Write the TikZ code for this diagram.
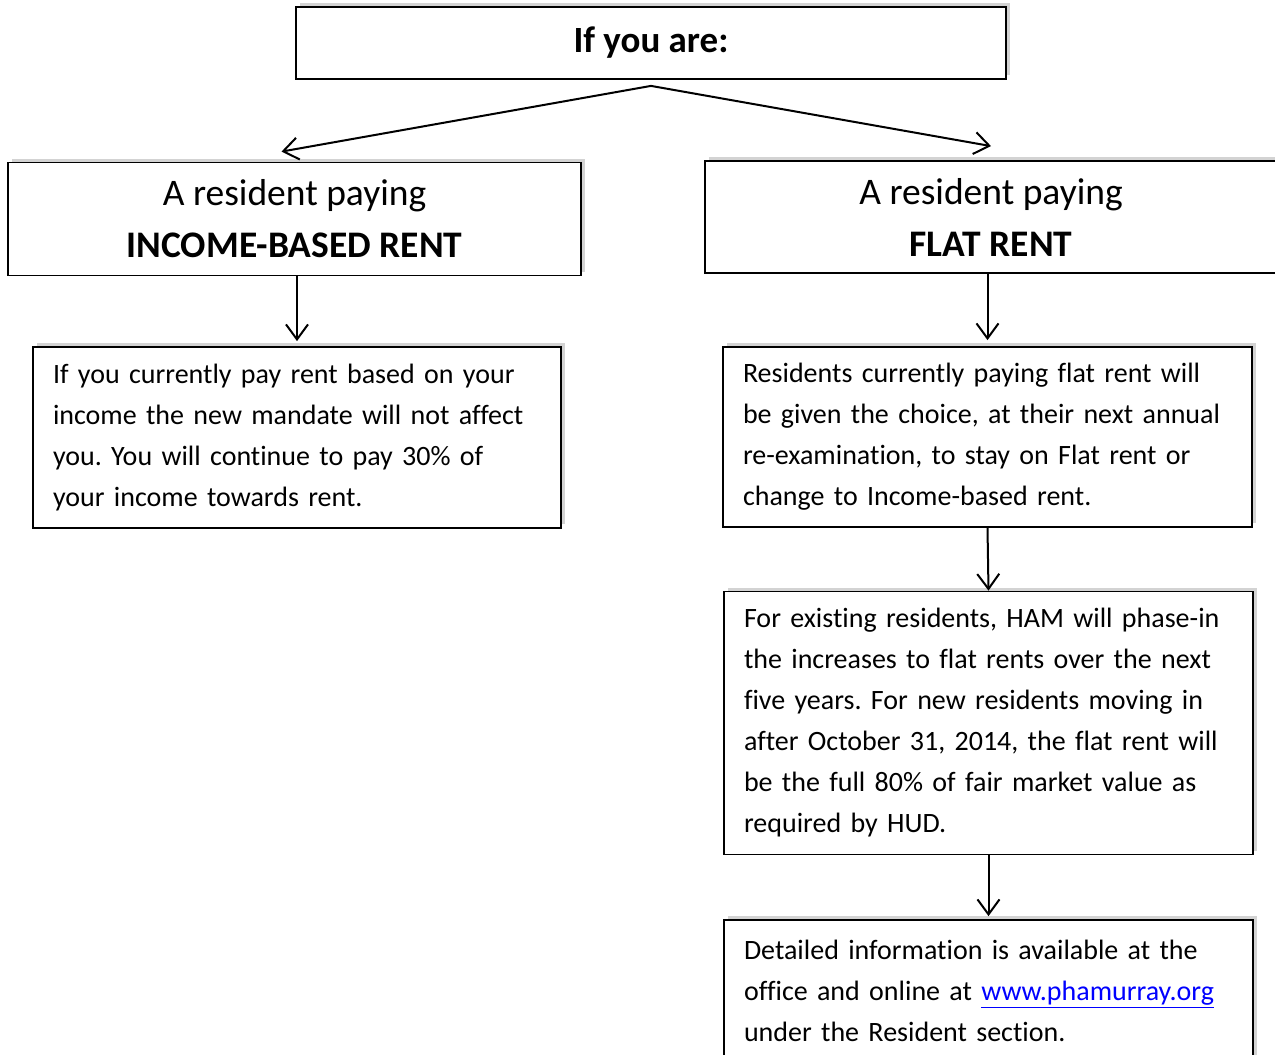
\documentclass[tikz,border=0pt]{standalone}
\usepackage{fontspec}
\setmainfont{Carlito}[Ligatures=NoCommon]
\usetikzlibrary{arrows.meta,positioning,shadows}
\definecolor{linkblue}{HTML}{0000FF}

\begin{document}
\frenchspacing
\begin{tikzpicture}[
  x=1pt, y=-1pt,
  box/.style={draw=black, line width=1.8pt, fill=white, inner sep=0pt,
    drop shadow={shadow xshift=4pt, shadow yshift=4pt, opacity=0.35}},
  headbox/.style={box, minimum height=113pt, align=center,
    font=\fontsize{37.5}{52}\selectfont},
  textbox/.style={box, align=left, inner xsep=20pt,
    font=\fontsize{28}{41}\selectfont},
  arr/.style={-{Straight Barb[length=15pt,width=22pt]}, line width=2pt}
]
  \useasboundingbox (0,0) rectangle (1275,1055);

  % question
  \node[box, minimum width=710pt, minimum height=72pt,
        font=\fontsize{37}{40}\selectfont\bfseries] (ask) at (651,43) {If you are:};

  % two kinds of rent
  \node[headbox, minimum width=573pt] (income) at (294.5,219)
    {A resident paying\\ \textbf{INCOME-BASED RENT}};
  \node[headbox, minimum width=572pt, minimum height=112pt] (flat) at (991,217)
    {A resident paying\\ \textbf{FLAT RENT}};

  % income-based branch
  \node[textbox, text width=488pt, minimum height=181pt] (incomeinfo) at (297,437.5)
    {If you currently pay rent based on your\\
     income the new mandate will not affect\\
     you. You will continue to pay 30\% of\\
     your income towards rent.};

  % flat rent branch
  \node[textbox, text width=489pt, minimum height=180pt] (flatchoice) at (987.5,437)
    {Residents currently paying flat rent will\\
     be given the choice, at their next annual\\
     re-examination, to stay on Flat rent or\\
     change to Income-based rent.};
  \node[textbox, text width=489pt, minimum height=263pt] (phasein) at (988.5,723)
    {For existing residents, HAM will phase-in\\
     the increases to flat rents over the next\\
     five years. For new residents moving in\\
     after October 31, 2014, the flat rent will\\
     be the full 80\% of fair market value as\\
     required by HUD.};
  \node[textbox, text width=489pt, minimum height=142pt] (details) at (988.5,991)
    {Detailed information is available at the\\
     office and online at \textcolor{linkblue}{\underline{www.phamurray.org}}\\
     under the Resident section.};

  % connectors
  \coordinate (split) at ([yshift=-6pt]ask.south);
  \draw[arr] (split) -- ([xshift=-13pt, yshift=10pt]income.north);
  \draw[arr] (split) -- ([yshift=14pt]flat.north);
  \draw[arr] (incomeinfo.north |- income.south) -- ([yshift=5pt]incomeinfo.north);
  \draw[arr] (flat.south -| flatchoice.north) -- ([yshift=6pt]flatchoice.north);
  \draw[arr] (flatchoice.south) -- (phasein.north);
  \draw[arr] (phasein.south) -- ([yshift=3pt]details.north);
\end{tikzpicture}
\end{document}
